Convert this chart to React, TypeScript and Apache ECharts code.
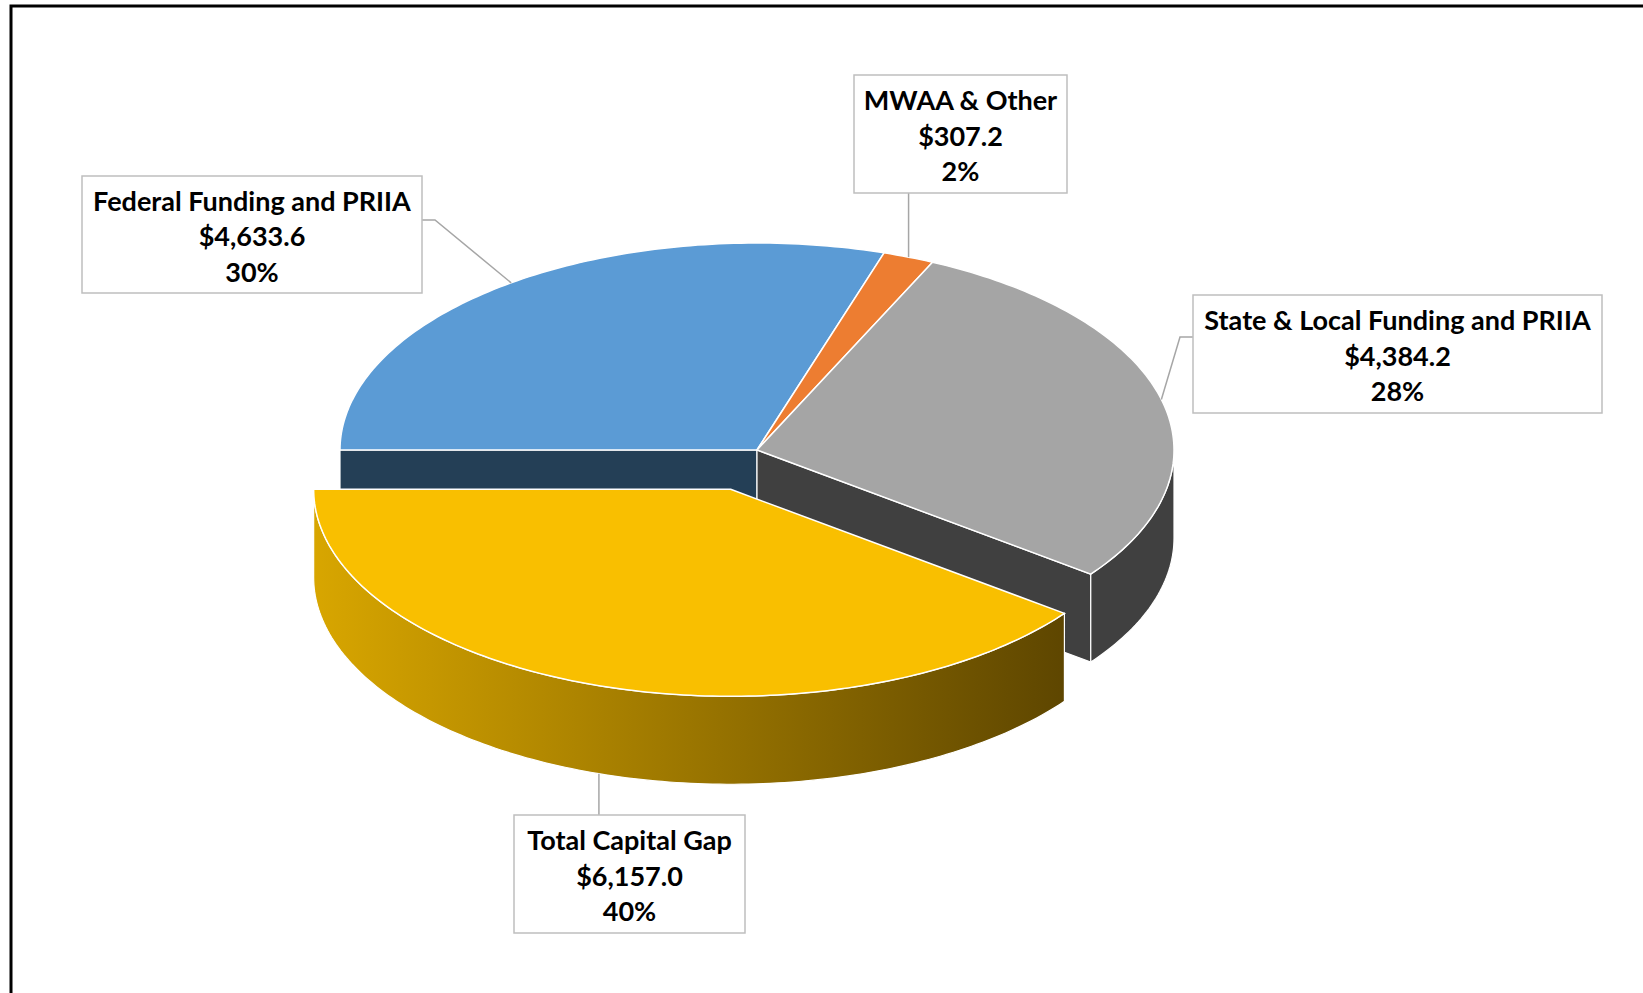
import React, { useEffect, useRef } from "react";
import * as echarts from "echarts";

// ---- data ----
const NAMES = [
  "Federal Funding and PRIIA",
  "MWAA & Other",
  "State & Local Funding and PRIIA",
  "Total Capital Gap",
];
const VALUES = [4633.6, 307.2, 4384.2, 6157.0];
const EXPLODED = [false, false, false, true];

// ---- styles ----
const TOP_COLORS = ["#5B9BD5", "#ED7D31", "#A5A5A5", "#F9BF00"];
const SIDE_COLORS: any[] = ["#243F56", "#8A4A1D", "#404040", ["#D8A600", "#5E4600"]];

// ---- layout ----
const CX = 757;
const CY = 450;
const RX = 417;
const RY = 207;
const DEPTH = 88;
const EXPLODE = 0.2;
const START_ANGLE = 180;
const LABEL_BOXES: any[] = [
  { x: 82, y: 176, w: 340, h: 117, leader: [[435, 220], [422, 220]] },
  { x: 854, y: 75, w: 213, h: 118, leader: [["ax", 193]] },
  { x: 1193, y: 295, w: 409, h: 118, leader: [[1180, 337], [1193, 337]] },
  { x: 514, y: 815, w: 231, h: 118, leader: [["ax", 815]] },
];
const FONT = "Lato, 'Open Sans', sans-serif";

const rad = (d: number) => (d * Math.PI) / 180;

function fmtMoney(v: number) {
  return "$" + v.toLocaleString("en-US", { minimumFractionDigits: 1, maximumFractionDigits: 1 });
}

export default function App() {
  const ref = useRef<HTMLDivElement>(null);
  useEffect(() => {
    document.body.style.margin = "0";
    if (!ref.current) return;
    const chart = echarts.init(ref.current, null, { renderer: "svg" });
    const total = VALUES.reduce((a, b) => a + b, 0);
    const n = VALUES.length;
    const angles: number[][] = [];
    let cum = 0;
    for (let i = 0; i < n; i++) {
      const s = START_ANGLE - (cum / total) * 360;
      cum += VALUES[i];
      const e = START_ANGLE - (cum / total) * 360;
      angles.push([s, e]);
    }

    const renderItem = (params: any, api: any) => {
      const i = params.dataIndex;
      const value = api.value(0);
      const [ts, te] = angles[i];
      const mid = (ts + te) / 2;
      const ex = EXPLODED[i];
      const ox = ex ? EXPLODE * RX * Math.cos(rad(mid)) : 0;
      const oy = ex ? -EXPLODE * RY * Math.sin(rad(mid)) : 0;
      const pt = (t: number, dy = 0) => [
        CX + ox + RX * Math.cos(rad(t)),
        CY + oy - RY * Math.sin(rad(t)) + dy,
      ];
      const c = [CX + ox, CY + oy];
      const zSide = ex ? 3 : 1;
      const zTop = ex ? 4 : 2;
      const children: any[] = [];
      const sideColor = SIDE_COLORS[i];
      const sideFill = Array.isArray(sideColor)
        ? new echarts.graphic.LinearGradient(0, 0, 1, 0, [
            { offset: 0, color: sideColor[0] },
            { offset: 1, color: sideColor[1] },
          ])
        : sideColor;

      // radial faces
      const prev = (i - 1 + n) % n;
      const next = (i + 1) % n;
      const faces = [
        { t: ts, normal: ts + 90, nb: prev },
        { t: te, normal: te - 90, nb: next },
      ];
      faces.forEach((f) => {
        if (Math.sin(rad(f.normal)) < -0.01 && (ex || EXPLODED[f.nb])) {
          const p = pt(f.t);
          const pb = pt(f.t, DEPTH);
          children.push({
            type: "polygon",
            z2: zSide,
            shape: { points: [c, p, pb, [c[0], c[1] + DEPTH]] },
            style: { fill: sideFill, stroke: "#FFFFFF", lineWidth: 1.2 },
          });
        }
      });

      // outer wall (front half only)
      const a = Math.max(te, -180);
      const b = Math.min(ts, 0);
      if (b > a) {
        const top: number[][] = [];
        const bot: number[][] = [];
        const steps = Math.max(2, Math.ceil(b - a));
        for (let k = 0; k <= steps; k++) {
          const t = a + ((b - a) * k) / steps;
          top.push(pt(t));
          bot.push(pt(t, DEPTH));
        }
        children.push({
          type: "polygon",
          z2: zSide,
          shape: { points: top.concat(bot.reverse()) },
          style: { fill: sideFill, stroke: "#FFFFFF", lineWidth: 1.2 },
        });
      }

      // top face
      const arc: number[][] = [c];
      const steps = Math.max(2, Math.ceil(ts - te));
      for (let k = 0; k <= steps; k++) arc.push(pt(ts - ((ts - te) * k) / steps));
      children.push({
        type: "polygon",
        z2: zTop,
        shape: { points: arc },
        style: { fill: TOP_COLORS[i], stroke: "#FFFFFF", lineWidth: 1.5 },
      });

      // label
      const box = LABEL_BOXES[i];
      const anchor = Math.sin(rad(mid)) < 0 ? pt(mid, DEPTH) : pt(mid);
      const pts = [anchor].concat(
        box.leader.map((p: any) => [p[0] === "ax" ? anchor[0] : p[0], p[1]])
      );
      children.push({
        type: "polyline",
        z2: 10,
        shape: { points: pts },
        style: { stroke: "#A6A6A6", lineWidth: 1.5, fill: null },
      });
      children.push({
        type: "rect",
        z2: 11,
        shape: { x: box.x, y: box.y, width: box.w, height: box.h },
        style: { fill: "#FFFFFF", stroke: "#BFBFBF", lineWidth: 1.5 },
      });
      const lines = [NAMES[i], fmtMoney(value), Math.round((value / total) * 100) + "%"];
      lines.forEach((txt, k) => {
        children.push({
          type: "text",
          z2: 12,
          style: {
            text: txt,
            x: box.x + box.w / 2,
            y: box.y + box.h / 2 + 1 + (k - 1) * 35.5,
            align: "center",
            verticalAlign: "middle",
            fill: "#000000",
            fontFamily: FONT,
            fontWeight: "bold",
            fontSize: 27,
          },
        });
      });
      return { type: "group", children };
    };

    chart.setOption({
      animation: false,
      backgroundColor: "#FFFFFF",
      graphic: [
        {
          type: "polyline",
          shape: { points: [[11, 993], [11, 6], [1643, 6]] },
          style: { stroke: "#000000", lineWidth: 3, fill: null },
        },
      ],
      series: [
        {
          type: "custom",
          coordinateSystem: "none",
          renderItem,
          data: VALUES.map((v, i) => ({ name: NAMES[i], value: [v] })),
        },
      ],
    });
    return () => chart.dispose();
  }, []);
  return <div ref={ref} style={{ width: 1643, height: 993 }} />;
}
